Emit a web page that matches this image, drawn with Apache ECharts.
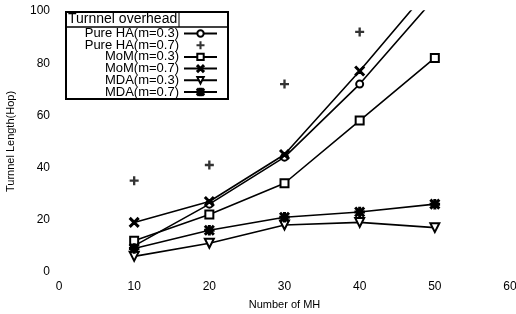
<!DOCTYPE html>
<html>
<head>
<meta charset="utf-8">
<script src="https://cdn.jsdelivr.net/npm/echarts@6/dist/echarts.min.js"></script>
<style>
  html, body { margin: 0; padding: 0; background: #fff; }
  #chart { width: 516px; height: 314px; }
</style>
</head>
<body>
<div id="chart"></div>
<script>
const xValues = [10, 20, 30, 40, 50]
const pureHA03 = [10, 26, 44, 72, 105]
const pureHA07 = [35, 41, 72, 92, null]
const mom03 = [12, 22, 34, 58, 82]
const mom07 = [19, 27, 45, 77, 111]
const mda03 = [6, 11, 18, 19, 17]
const mda07 = [9, 16, 21, 23, 26]

const xTicks = [0, 10, 20, 30, 40, 50, 60]
const yTicks = [0, 20, 40, 60, 80, 100]

const FONT = 'Liberation Sans'

// marker shapes
const plusPath = 'path://M3.7,0H6.3V3.7H10V6.3H6.3V10H3.7V6.3H0V3.7H3.7Z'
const crossPath = 'path://M0,1.4L1.4,0L6,4.6L10.6,0L12,1.4L7.4,6L12,10.6L10.6,12L6,7.4L1.4,12L0,10.6L4.6,6Z'
const starPath = 'path://M0,1.4L1.4,0L6,4.6L10.6,0L12,1.4L7.4,6L12,10.6L10.6,12L6,7.4L1.4,12L0,10.6L4.6,6Z M5,0H7V12H5Z M0,5H12V7H0Z'

const pairs = arr => xValues.map((x, i) => [x, arr[i]])

const lineSeries = (name, data, symbol, size, rotate) => ({
  name,
  type: 'line',
  data: pairs(data),
  symbol,
  symbolSize: size,
  symbolRotate: rotate || 0,
  showAllSymbol: true,
  clip: true,
  lineStyle: { color: '#000', width: 1.6 },
  itemStyle: { color: '#000', borderColor: '#000', borderWidth: 1.5 },
  emphasis: { disabled: true }
})

const chart = echarts.init(document.getElementById('chart'))

chart.setOption({
  animation: false,
  textStyle: { fontFamily: FONT },
  grid: { left: 59, right: 6, top: 11, bottom: 42, outerBoundsMode: 'none', containLabel: false },
  xAxis: {
    type: 'value',
    min: xTicks[0],
    max: xTicks[xTicks.length - 1],
    interval: 10,
    name: 'Number of MH',
    nameLocation: 'middle',
    nameGap: 27,
    nameTextStyle: { color: '#000', fontSize: 11, fontFamily: FONT },
    axisLine: { show: false },
    axisTick: { show: false },
    splitLine: { show: false },
    axisLabel: { color: '#000', fontSize: 12, fontFamily: FONT, margin: 9 }
  },
  yAxis: {
    type: 'value',
    min: yTicks[0],
    max: yTicks[yTicks.length - 1],
    interval: 20,
    name: 'Turnnel Length(Hop)',
    nameLocation: 'middle',
    nameGap: 43,
    nameTextStyle: { color: '#000', fontSize: 11, fontFamily: FONT },
    axisLine: { show: false },
    axisTick: { show: false },
    splitLine: { show: false },
    axisLabel: { color: '#000', fontSize: 12, fontFamily: FONT, margin: 9 }
  },
  legend: {
    orient: 'vertical',
    align: 'right',
    right: 298,
    top: 27,
    padding: 0,
    itemWidth: 33,
    itemHeight: 8,
    itemGap: -1.3,
    textStyle: { color: '#000', fontSize: 13, fontFamily: FONT },
    data: ['Pure HA(m=0.3)', 'Pure HA(m=0.7)', 'MoM(m=0.3)', 'MoM(m=0.7)', 'MDA(m=0.3)', 'MDA(m=0.7)'],
    z: 10
  },
  graphic: [
    { type: 'rect', left: 65, top: 11, z: 5, shape: { width: 162, height: 87 }, style: { fill: '#fff', stroke: '#000', lineWidth: 2 } },
    { type: 'line', z: 6, shape: { x1: 65, y1: 27, x2: 227, y2: 27 }, style: { stroke: '#000', lineWidth: 1.5 } },
    { type: 'line', z: 6, shape: { x1: 179, y1: 11, x2: 179, y2: 27 }, style: { stroke: '#000', lineWidth: 1 } },
    { type: 'text', z: 6, left: 68, top: 12, style: { text: 'Turnnel overhead', font: '14px ' + FONT, fill: '#000' } }
  ],
  series: [
    lineSeries('Pure HA(m=0.3)', pureHA03, 'emptyCircle', 7),
    {
      name: 'Pure HA(m=0.7)',
      type: 'scatter',
      data: pairs(pureHA07),
      symbol: plusPath,
      symbolSize: 9,
      itemStyle: { color: '#000' },
      emphasis: { disabled: true }
    },
    lineSeries('MoM(m=0.3)', mom03, 'emptyRect', 8),
    lineSeries('MoM(m=0.7)', mom07, crossPath, 9),
    lineSeries('MDA(m=0.3)', mda03, 'emptyTriangle', 9, 180),
    lineSeries('MDA(m=0.7)', mda07, starPath, 9)
  ]
})
</script>
</body>
</html>
